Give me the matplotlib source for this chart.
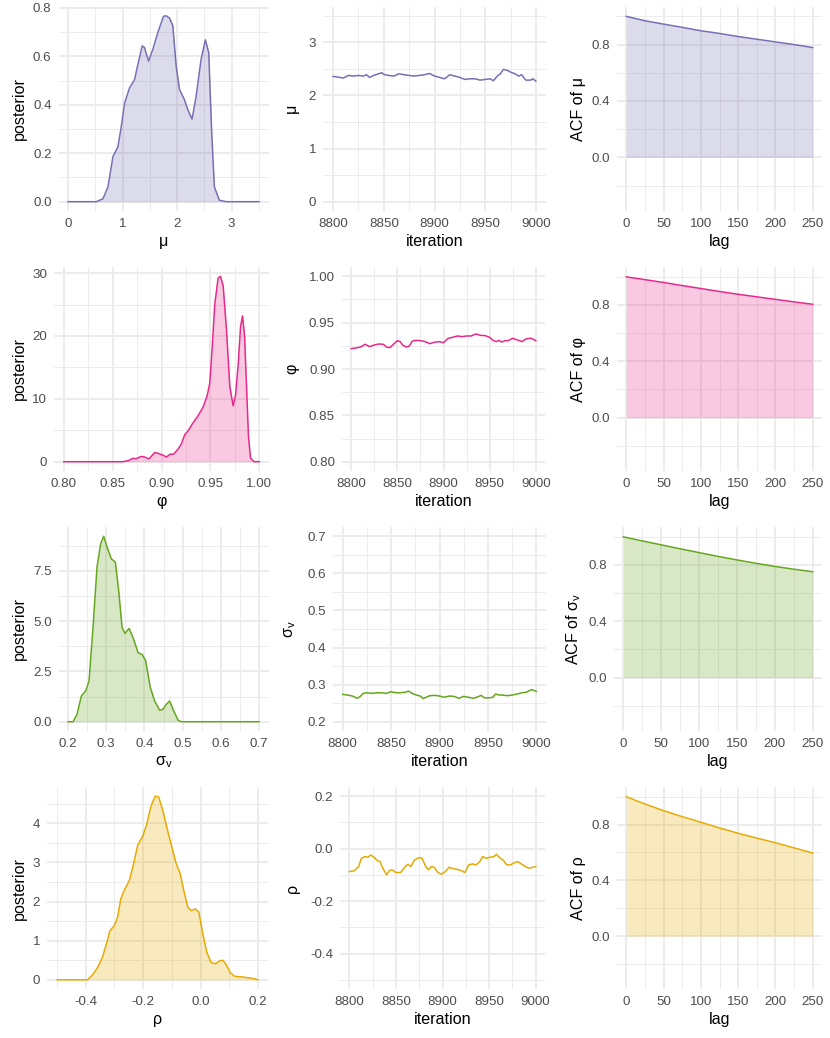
import matplotlib
matplotlib.use("Agg")
import matplotlib.pyplot as plt
from matplotlib.ticker import MultipleLocator, FuncFormatter

plt.rcParams['font.family'] = ['Liberation Sans', 'DejaVu Sans']
plt.rcParams['mathtext.fontset'] = 'custom'
plt.rcParams['mathtext.rm'] = 'Liberation Sans'
plt.rcParams['mathtext.it'] = 'Liberation Sans:italic'

# parameter names and colours (Dark2)
labels = ['μ', 'φ', 'σ$_{\\mathrm{v}}$', 'ρ']
colors = ['#7570B3', '#E7298A', '#66A61E', '#E6AB02']
ranges = [(0.0, 3.5), (0.80, 1.00), (0.2, 0.7), (-0.5, 0.2)]

# posterior densities
mu_x = [0.0, 0.45, 0.518, 0.640, 0.732, 0.823, 0.915, 0.976, 1.037, 1.128, 1.220, 1.280,
        1.360, 1.402, 1.476, 1.555, 1.646, 1.750, 1.800, 1.860, 1.921, 1.982, 2.043, 2.134,
        2.195, 2.274, 2.348, 2.439, 2.518, 2.579, 2.634, 2.683, 2.774, 2.90, 3.5]
mu_d = [0.0, 0.0, 0.0, 0.012, 0.061, 0.186, 0.227, 0.310, 0.407, 0.470, 0.504, 0.566,
        0.643, 0.636, 0.580, 0.629, 0.698, 0.765, 0.767, 0.758, 0.726, 0.560, 0.463, 0.421,
        0.380, 0.341, 0.435, 0.587, 0.668, 0.615, 0.283, 0.061, 0.006, 0.0, 0.0]

phi_x = [0.80, 0.86, 0.8667, 0.8701, 0.8742, 0.8793, 0.8827, 0.8872, 0.8930, 0.8964, 0.9015,
         0.9050, 0.9091, 0.9125, 0.9169, 0.9203, 0.9238, 0.9272, 0.9323, 0.9374, 0.9426,
         0.9467, 0.9494, 0.9518, 0.9545, 0.9579, 0.9603, 0.9631, 0.9665, 0.9699, 0.9733,
         0.9757, 0.9785, 0.9809, 0.9829, 0.9850, 0.9870, 0.9890, 0.9911, 0.9945, 1.00]
phi_d = [0.0, 0.0, 0.2, 0.5, 0.5, 0.85, 0.75, 0.45, 1.45, 1.35, 1.05,
         0.75, 1.2, 1.2, 2.0, 2.8, 4.3, 4.9, 6.2, 7.3, 8.7,
         10.5, 12.5, 18.0, 25.0, 29.2, 29.5, 28.0, 21.0, 12.0, 8.9,
         10.5, 15.5, 21.5, 23.2, 20.0, 12.0, 4.0, 0.6, 0.02, 0.0]

sig_x = [0.2, 0.213, 0.2236, 0.2349, 0.2462, 0.255, 0.2654, 0.2759, 0.2855, 0.2934, 0.3021,
         0.3134, 0.3239, 0.3335, 0.3414, 0.3492, 0.3597, 0.3702, 0.3832, 0.3945, 0.4033,
         0.4155, 0.4269, 0.4400, 0.4487, 0.4574, 0.4661, 0.4749, 0.4880, 0.4967, 0.7]
sig_d = [0.0, 0.0, 0.37, 1.28, 1.53, 2.03, 4.69, 7.69, 8.85, 9.22, 8.69,
         8.10, 7.94, 6.36, 4.69, 4.39, 4.64, 4.19, 3.44, 3.33, 3.03,
         1.70, 1.03, 0.57, 0.62, 0.87, 1.03, 0.62, 0.08, 0.0, 0.0]

rho_x = [-0.5, -0.394, -0.377, -0.359, -0.342, -0.328, -0.316, -0.301, -0.289, -0.278, -0.266,
         -0.248, -0.233, -0.219, -0.202, -0.188, -0.173, -0.158, -0.146, -0.132, -0.114,
         -0.099, -0.085, -0.071, -0.056, -0.044, -0.033, -0.018, -0.006, 0.008, 0.022,
         0.037, 0.052, 0.066, 0.078, 0.090, 0.104, 0.119, 0.148, 0.183, 0.200]
rho_d = [0.0, 0.0, 0.12, 0.31, 0.57, 0.91, 1.25, 1.38, 1.60, 2.07, 2.28,
         2.54, 2.97, 3.44, 3.66, 3.96, 4.43, 4.69, 4.67, 4.34, 3.79,
         3.36, 2.97, 2.71, 2.20, 1.85, 1.77, 1.81, 1.73, 1.17, 0.70,
         0.44, 0.41, 0.48, 0.50, 0.38, 0.18, 0.09, 0.07, 0.035, 0.0]

# trace plots, last 200 iterations
mu_it = [8800, 8805, 8810, 8815, 8820, 8825, 8830, 8833, 8836, 8840, 8845, 8848, 8850, 8855,
         8860, 8865, 8870, 8875, 8880, 8885, 8890, 8895, 8900, 8905, 8910, 8915, 8920, 8925,
         8930, 8935, 8940, 8945, 8950, 8955, 8958, 8962, 8965, 8968, 8972, 8975, 8980, 8983,
         8986, 8990, 8995, 8997, 9000]
mu_tr = [2.358, 2.346, 2.327, 2.377, 2.365, 2.377, 2.365, 2.390, 2.340, 2.377, 2.409, 2.428, 2.396, 2.377,
         2.365, 2.409, 2.390, 2.377, 2.365, 2.377, 2.390, 2.415, 2.365, 2.340, 2.314, 2.390, 2.365, 2.340,
         2.302, 2.314, 2.314, 2.289, 2.302, 2.314, 2.277, 2.365, 2.409, 2.491, 2.472, 2.440, 2.403, 2.365,
         2.390, 2.289, 2.289, 2.314, 2.270]

phi_it = [8800, 8805, 8810, 8815, 8820, 8825, 8830, 8835, 8838, 8842, 8845, 8850, 8853, 8856,
          8860, 8863, 8866, 8870, 8875, 8880, 8885, 8890, 8895, 8900, 8905, 8910, 8915, 8920,
          8925, 8930, 8935, 8940, 8945, 8950, 8953, 8957, 8960, 8963, 8967, 8970, 8975, 8980,
          8985, 8990, 8995, 9000]
phi_tr = [0.9219, 0.9227, 0.9237, 0.9266, 0.9241, 0.9259, 0.9270, 0.9266, 0.9237, 0.9230, 0.9259, 0.9306, 0.9295, 0.9255,
          0.9237, 0.9248, 0.9299, 0.9309, 0.9306, 0.9295, 0.9273, 0.9288, 0.9295, 0.9284, 0.9331, 0.9342, 0.9356, 0.9349,
          0.9356, 0.9356, 0.9378, 0.9363, 0.9360, 0.9342, 0.9313, 0.9295, 0.9309, 0.9291, 0.9306, 0.9306, 0.9331, 0.9313,
          0.9295, 0.9327, 0.9331, 0.9306]

sig_it = [8800, 8805, 8810, 8815, 8818, 8821, 8825, 8830, 8835, 8840, 8845, 8850, 8855, 8860,
          8865, 8868, 8872, 8876, 8880, 8883, 8887, 8890, 8895, 8900, 8905, 8910, 8915, 8920,
          8925, 8930, 8935, 8940, 8943, 8946, 8950, 8955, 8958, 8962, 8965, 8970, 8975, 8980,
          8985, 8990, 8995, 9000]
sig_tr = [0.2737, 0.2719, 0.2693, 0.2632, 0.2675, 0.2763, 0.2781, 0.2763, 0.2781, 0.2781, 0.2763, 0.2807, 0.2781, 0.2781,
          0.2798, 0.2825, 0.2763, 0.2719, 0.2693, 0.2623, 0.2667, 0.2702, 0.2711, 0.2693, 0.2658, 0.2693, 0.2684, 0.2632,
          0.2684, 0.2658, 0.2632, 0.2675, 0.2711, 0.2649, 0.2640, 0.2658, 0.2746, 0.2719, 0.2719, 0.2702, 0.2719, 0.2746,
          0.2781, 0.2798, 0.2868, 0.2816]

rho_it = [8800, 8805, 8810, 8813, 8817, 8820, 8823, 8827, 8830, 8833, 8836, 8840, 8843, 8846,
          8850, 8855, 8860, 8863, 8866, 8870, 8875, 8878, 8882, 8885, 8888, 8891, 8895, 8899,
          8903, 8907, 8910, 8915, 8920, 8924, 8928, 8932, 8936, 8940, 8943, 8947, 8951, 8955,
          8958, 8962, 8965, 8969, 8973, 8977, 8981, 8985, 8989, 8993, 8997, 9000]
rho_tr = [-0.0873, -0.0848, -0.0684, -0.0367, -0.0304, -0.0329, -0.0241, -0.0342, -0.0456, -0.0494, -0.0747, -0.1000, -0.0835, -0.0810,
          -0.0911, -0.0911, -0.0684, -0.0595, -0.0684, -0.0430, -0.0342, -0.0367, -0.0684, -0.0810, -0.0684, -0.0709, -0.0911, -0.0975,
          -0.0873, -0.0709, -0.0747, -0.0785, -0.0835, -0.0911, -0.0620, -0.0582, -0.0620, -0.0494, -0.0304, -0.0367, -0.0329, -0.0304,
          -0.0215, -0.0367, -0.0430, -0.0620, -0.0620, -0.0532, -0.0494, -0.0595, -0.0684, -0.0747, -0.0709, -0.0684]

# autocorrelation
lags = [0, 25, 50, 75, 100, 125, 150, 175, 200, 225, 250]
mu_acf = [1.0, 0.969, 0.945, 0.922, 0.898, 0.879, 0.857, 0.838, 0.819, 0.800, 0.779]
phi_acf = [1.0, 0.980, 0.960, 0.938, 0.917, 0.896, 0.876, 0.858, 0.840, 0.822, 0.805]
sig_acf = [1.0, 0.971, 0.943, 0.915, 0.888, 0.861, 0.836, 0.812, 0.790, 0.770, 0.752]
rho_acf = [1.0, 0.948, 0.900, 0.857, 0.817, 0.776, 0.738, 0.703, 0.670, 0.633, 0.596]

dens = [(mu_x, mu_d), (phi_x, phi_d), (sig_x, sig_d), (rho_x, rho_d)]
traces = [(mu_it, mu_tr), (phi_it, phi_tr), (sig_it, sig_tr), (rho_it, rho_tr)]
acfs = [mu_acf, phi_acf, sig_acf, rho_acf]

# tick steps per row: (major, minor, decimals)
par_ticks = [(1, 0.5, 0), (0.05, 0.025, 2), (0.1, 0.05, 1), (0.2, 0.1, 1)]
dens_ticks = [(0.2, 0.1, 1), (10, 5, 0), (2.5, 1.25, 1), (1, 0.5, 0)]

# panel boxes in pixels: left, top, right, bottom
W, H = 830, 1038
boxes = [
    [(58.5, 6.5, 268.5, 211), (323, 6.5, 546, 211), (617, 6.5, 822, 211)],
    [(54, 267, 269, 471), (342, 267, 545, 471), (617, 267, 822, 471)],
    [(58.5, 527, 268.5, 731), (333, 527, 546, 731), (614, 527, 822, 731)],
    [(47, 787, 268, 989), (340, 787, 545, 989), (617, 787, 822, 989)],
]

TICK = 9.6
TITLE = 11.6

fig = plt.figure(figsize=(W / 100, H / 100), dpi=100)


def panel(box):
    l, t, r, b = box
    return fig.add_axes([l / W, 1 - b / H, (r - l) / W, (b - t) / H])


def expand(lo, hi, f=0.05):
    d = (hi - lo) * f
    return lo - d, hi + d


def fmt(dec):
    return FuncFormatter(lambda v, p: f'{round(v, 6) + 0.0:.{dec}f}')


def style(ax, xt, yt):
    for s in ax.spines.values():
        s.set_visible(False)
    ax.xaxis.set_major_locator(MultipleLocator(xt[0]))
    ax.xaxis.set_minor_locator(MultipleLocator(xt[1]))
    ax.xaxis.set_major_formatter(fmt(xt[2]))
    ax.yaxis.set_major_locator(MultipleLocator(yt[0]))
    ax.yaxis.set_minor_locator(MultipleLocator(yt[1]))
    ax.yaxis.set_major_formatter(fmt(yt[2]))
    ax.grid(which='major', color='#EBEBEB', lw=1.3)
    ax.grid(which='minor', color='#EBEBEB', lw=0.65)
    ax.set_axisbelow(True)
    ax.tick_params(which='both', length=0, pad=5, labelsize=TICK, labelcolor='#4D4D4D')


for i in range(4):
    c = colors[i]
    lo, hi = ranges[i]

    # density
    ax = panel(boxes[i][0])
    x, d = dens[i]
    ax.fill_between(x, d, color=c, alpha=0.25, lw=0)
    ax.plot(x, d, color=c, lw=1.1)
    ax.set_xlim(*expand(lo, hi))
    ax.set_ylim(*expand(0, max(d)))
    style(ax, par_ticks[i], dens_ticks[i])
    ax.set_xlabel(labels[i], fontsize=TITLE, labelpad=3)
    ax.set_ylabel('posterior', fontsize=TITLE, labelpad=4)

    # trace
    ax = panel(boxes[i][1])
    it, tr = traces[i]
    ax.plot(it, tr, color=c, lw=1.1)
    ax.set_xlim(*expand(8800, 9000))
    ax.set_ylim(*expand(lo, hi))
    style(ax, (50, 25, 0), par_ticks[i])
    ax.set_xlabel('iteration', fontsize=TITLE, labelpad=3)
    ax.set_ylabel(labels[i], fontsize=TITLE, labelpad=7)

    # acf
    ax = panel(boxes[i][2])
    ax.fill_between(lags, acfs[i], color=c, alpha=0.25, lw=0)
    ax.plot(lags, acfs[i], color=c, lw=1.1)
    ax.set_xlim(*expand(0, 250))
    ax.set_ylim(-0.38, 1.07)
    style(ax, (50, 25, 0), (0.4, 0.2, 1))
    ax.set_xlabel('lag', fontsize=TITLE, labelpad=3)
    ax.set_ylabel('ACF of ' + labels[i], fontsize=TITLE, labelpad=4)

fig.savefig('out.png', dpi=100, facecolor='white')
